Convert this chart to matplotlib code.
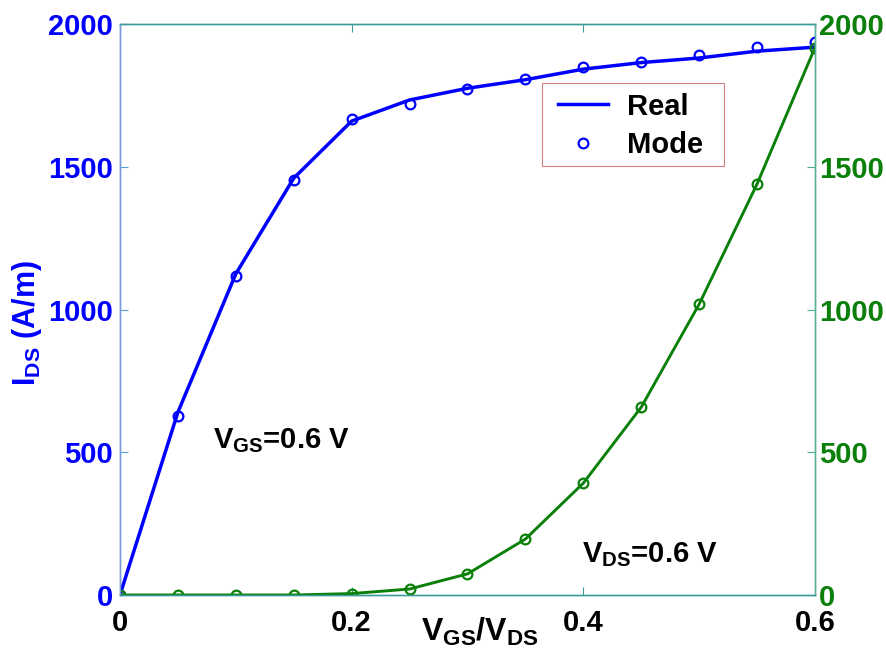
import matplotlib
matplotlib.use("Agg")
import matplotlib.pyplot as plt
from matplotlib.patches import Rectangle

plt.rcParams['font.family'] = ['Liberation Sans', 'DejaVu Sans']
plt.rcParams['font.weight'] = 'bold'
plt.rcParams['mathtext.fontset'] = 'custom'
plt.rcParams['mathtext.rm'] = 'Liberation Sans:bold'
plt.rcParams['mathtext.bf'] = 'Liberation Sans:bold'
plt.rcParams['mathtext.it'] = 'Liberation Sans:bold'

# Data
v = [0.0, 0.05, 0.1, 0.15, 0.2, 0.25, 0.3, 0.35, 0.4, 0.45, 0.5, 0.55, 0.6]
ids_vgs_real = [0, 640, 1125, 1460, 1660, 1734, 1775, 1805, 1842, 1865, 1881, 1905, 1919]
ids_vgs_model = [0, 627, 1117, 1454, 1667, 1720, 1772, 1807, 1849, 1867, 1891, 1919, 1937]
ids_vds_real = [0, 0, 0, 0, 5, 21, 74, 196, 392, 658, 1019, 1440, 1918]
ids_vds_model = [0, 0, 0, 0, 5, 21, 74, 196, 392, 658, 1019, 1440, 1916]
xticks = [0, 0.2, 0.4, 0.6]
xticklabels = ['0', '0.2', '0.4', '0.6']
yticks = [0, 500, 1000, 1500, 2000]

blue = '#0000ff'
green = '#0a800a'

fig = plt.figure(figsize=(8.86, 6.62), dpi=100)
ax = fig.add_axes([0.1354, 0.1012, 0.7845, 0.8625])
ax2 = ax.twinx()

ax.plot(v, ids_vgs_real, color=blue, lw=2.5, label='Real', zorder=3)
ax.plot(v, ids_vgs_model, 'o', color=blue, mfc='none', mec=blue, ms=7, mew=1.6,
        label='Mode', zorder=4)
ax2.plot(v, ids_vds_real, color=green, lw=2.1)
ax2.plot(v, ids_vds_model, 'o', color=green, mfc='none', mec=green, ms=7, mew=1.6)

for a in (ax, ax2):
    a.set_xlim(0, 0.6)
    a.set_ylim(0, 2000)
    a.set_yticks(yticks)
ax.set_xticks(xticks)
ax.set_xticklabels(xticklabels)

ax.tick_params(axis='x', direction='in', top=True, length=6, pad=10,
               labelsize=21, labelcolor='black', color='#3c9c9c')
ax.tick_params(axis='y', direction='in', length=6, pad=5,
               labelsize=21, labelcolor=blue, color='#5aa0d8')
ax2.tick_params(axis='y', direction='in', length=6, pad=3,
                labelsize=21, labelcolor=green, color='#4caf8a')

for a in (ax, ax2):
    a.spines['top'].set_color('#3c9c9c')
    a.spines['bottom'].set_color('#3c9c9c')
    a.spines['left'].set_color('#7a9ad8')
    a.spines['right'].set_color('#5ab09a')
    for s in a.spines.values():
        s.set_linewidth(1.0)

ax.set_ylabel(r'$\mathrm{I_{DS}}$ (A/m)', color=blue, fontsize=22,
              fontweight='bold')
ax.yaxis.set_label_coords(-0.110, 0.476)
ax.set_xlabel(r'$\mathrm{V_{GS}/V_{DS}}$', color='black', fontsize=23,
              fontweight='bold')
ax.xaxis.set_label_coords(0.518, -0.036)

ax.text(0.08, 515, r'$\mathrm{V_{GS}}$=0.6 V', fontsize=21, fontweight='bold',
        va='baseline', ha='left', color='black')
ax.text(0.399, 116, r'$\mathrm{V_{DS}}$=0.6 V', fontsize=21, fontweight='bold',
        va='baseline', ha='left', color='black')

# legend frame (drawn separately to match its proportions)
ax.add_patch(Rectangle((0.607, 0.751), 0.262, 0.145, transform=ax.transAxes,
                       facecolor='white', edgecolor='#d08080', lw=0.8,
                       zorder=5))
leg = ax.legend(loc='upper left', bbox_to_anchor=(0.630, 0.880),
                borderaxespad=0, borderpad=0, frameon=False,
                prop={'size': 21, 'weight': 'bold'}, handlelength=1.72,
                handletextpad=0.65, labelspacing=0.35)
leg.set_zorder(6)

fig.savefig('out.png', dpi=100)
